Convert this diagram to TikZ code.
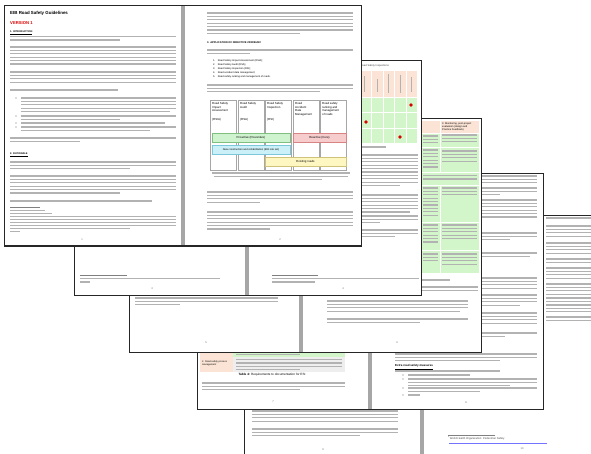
\documentclass[tikz,border=0pt]{standalone}
\usepackage{fontspec}
\setmainfont{Liberation Sans}
\definecolor{barGreen}{HTML}{CFF2CF}
\definecolor{barGreenD}{HTML}{7FBF7F}
\definecolor{barRed}{HTML}{F7CCCC}
\definecolor{barRedD}{HTML}{D98484}
\definecolor{barCyan}{HTML}{CCF0F8}
\definecolor{barCyanD}{HTML}{7CC8DA}
\definecolor{barYellow}{HTML}{FFF7C2}
\definecolor{barYellowD}{HTML}{CFC27A}
\definecolor{peach}{HTML}{FBE4D5}
\definecolor{tabGreen}{HTML}{D3F5CA}
\definecolor{cellGray}{HTML}{EEEEEE}
\newcommand{\fsz}[2]{\fontsize{#1}{#2}\selectfont}
% grey bars standing for the unreadable lines of running text
\newcommand{\txtlines}[5]{%
  \foreach \k in {1,...,#4}{%
    \pgfmathsetmacro{\ty}{#3+(\k-1)*3.4}%
    \ifnum\k=#4\relax
      \draw[txt] (#1,\ty) -- (#5,\ty);%
    \else
      \draw[txt] (#1,\ty) -- (#2,\ty);%
    \fi}}
% two facing pages: x1 y1 x2 y2 gutter
\newcommand{\spread}[5]{%
  \fill[white] (#1,#2) rectangle (#3,#4);
  \fill[gutter] (#5,#2) rectangle ({#5+4},#4);
  \draw[sheetframe] (#1,#2) rectangle (#3,#4);}
\begin{document}
\begin{tikzpicture}[x=1pt,y=-1pt,
  sheetframe/.style={draw=black!85,line width=1pt},
  gutter/.style={fill=black!35},
  txt/.style={draw=black!30,line width=1.3pt},
  fnrule/.style={draw=black!50,line width=0.3pt},
  pgnum/.style={font=\fsz{2.6}{3},text=black!60,inner sep=0pt},
  boxlabel/.style={font=\fsz{2.9}{3.8},inner sep=0pt,align=left,anchor=north west},
  bandlabel/.style={font=\fsz{2.9}{3.4},inner sep=0pt},
  band/.style={line width=0.4pt},
  diagcell/.style={draw=black!35,line width=0.4pt},
  reddot/.style={fill=red!85!black},
  cellsep/.style={draw=white,line width=0.6pt}]
  \useasboundingbox (0,0) rectangle (591,454);
  \fill[white] (0,0) rectangle (591,454);
  \clip (0,0) rectangle (591,454);

  % spread 5 (pages 9-10), furthest back
  \spread{244}{216}{600}{460}{420}
  \foreach \y/\n in {218/1,226/4,243/4,259/2,268/4,284/4,298/2,305/3,317/2}
    \txtlines{546}{600}{\y}{\n}{600};
  \txtlines{252}{398}{411}{4}{398}
  \txtlines{252}{398}{429}{3}{360}
  \node[pgnum] (pnine) at (323,450) {9};
  \draw[fnrule] (448,435.5) -- (495,435.5);
  \node[anchor=west,inner sep=0pt,font=\fsz{2.7}{3},text=black!70] (fnwho) at (448,438.6)
    {\textsuperscript{1}World Health Organization: Pedestrian Safety};
  \draw[txt,draw=blue!55,line width=0.9pt] (449,443) -- (547,443);
  \node[pgnum] (pten) at (522,449) {10};

  % spread 4 (pages 7-8)
  \spread{197}{174}{543}{409}{368}
  \foreach \y/\n/\e in {176/3/537,188/3/500,200/6/537,233/3/510,253/2/530,278/4/537,295/4/520,313/4/537,333/2/505}
    \txtlines{395}{537}{\y}{\n}{\e};
  \fill[peach] (200,340) rectangle (233,372);
  \fill[tabGreen] (233,340) rectangle (345,356.5);
  \fill[cellGray] (233,356.5) rectangle (345,372);
  \draw[txt,line width=0.8pt] (236,354) -- (300,354);
  \txtlines{236}{342}{359.5}{4}{300}
  \node[anchor=north west,inner sep=0pt,font=\fsz{2.4}{3.2},align=left] (procmgmt) at (202,360.5)
    {2. Road safety process\\management};
  \node[inner sep=0pt,font=\fsz{3.1}{3.5}] (tabfour) at (272,374.8)
    {\textbf{Table 4:} Requirements to documentation for ESI};
  \txtlines{202}{345}{383}{3}{300}
  \node[pgnum] (pseven) at (273,402) {7};
  \txtlines{395}{537}{354}{3}{500}
  \node[anchor=west,inner sep=0pt,font=\fsz{2.9}{3.3}\bfseries] (extra) at (395,367)
    {\underline{Extra road safety measures}};
  \txtlines{395}{537}{371}{1}{500}
  \foreach \y/\n/\e in {375/1/470,379/3/510,388/2/480,395/1/420} {
    \fill[black!55] (403,\y) circle (0.7);
    \txtlines{408}{537}{\y}{\n}{\e}}
  \node[pgnum] (peight) at (466,403) {8};

  % spread 3 (pages 5-6)
  \spread{129}{119}{481}{352}{299}
  \fill[peach] (330,121) rectangle (479,133);
  \fill[tabGreen] (330,133) rectangle (479,273);
  \draw[cellsep] (440,121) -- (440,172);
  \draw[cellsep] (440,185) -- (440,273);
  \foreach \y in {133,147,172,185,222,250}
    \draw[cellsep] (330,\y) -- (479,\y);
  \node[anchor=north west,inner sep=0pt,font=\fsz{2.5}{3},align=left] (monitor) at (442,122.2)
    {3. Monitoring, post-project\\evaluation (design and\\Practice Feedback)};
  \foreach \x/\e/\y/\n in {423/438/136/3,442/477/135/3,423/438/150/6,442/477/151/4,423/477/175.5/2,
      423/438/188/9,442/477/188/3,423/438/225/6,442/477/225/5,423/438/254/3,442/477/254/4}
    \txtlines{\x}{\e}{\y}{\n}{\e};
  \txtlines{327}{450}{280}{1}{450}
  \txtlines{327}{478}{287}{2}{478}
  \txtlines{327}{468}{301}{4}{460}
  \txtlines{327}{468}{319}{2}{420}
  \node[pgnum] (psix) at (397,343) {6};
  \txtlines{135}{278}{298}{3}{180}
  \node[pgnum] (pfive) at (206,343) {5};

  % spread 2 (pages 3-4)
  \spread{74}{61}{421}{295}{245}
  \node[anchor=east,inner sep=0pt,font=\fsz{2.6}{3},text=black!75] (rsi) at (389,66)
    {Road Safety Inspections};
  \fill[peach] (300,71) rectangle (417,97);
  \fill[tabGreen] (300,97) rectangle (417,143);
  \foreach \x in {371,383,394,406}
    \draw[cellsep] (\x,71) -- (\x,143);
  \foreach \y in {97,112,128}
    \draw[cellsep] (300,\y) -- (417,\y);
  \foreach \x/\a/\b in {364/76/92,377/79/92,388/74/93,400/75/93,411/77/92}
    \draw[txt,line width=0.8pt] (\x,\a) -- (\x,\b);
  \foreach \x/\y in {411/105,366/122,400/137}
    \fill[reddot] (\x,\y) circle (1.8);
  \draw[txt] (362,147) -- (386,147);
  \foreach \y/\n/\e in {155/10/400,195/6/410,216/3/380,230/3/395}
    \txtlines{270}{418}{\y}{\n}{\e};
  \draw[fnrule] (80,275.5) -- (127,275.5);
  \txtlines{80}{220}{278.5}{2}{90}
  \node[pgnum] (pthree) at (152,289) {3};
  \draw[fnrule] (272,275.5) -- (318,275.5);
  \txtlines{272}{419}{278.5}{2}{315}
  \node[pgnum] (pfour) at (343,289) {4};

  % spread 1 (pages 1-2), in front
  \spread{4}{6}{361}{246}{181}
  \node[anchor=west,inner sep=0pt,font=\fsz{4.4}{5}\bfseries] (title) at (10,13) {EIB Road Safety Guidelines};
  \node[anchor=west,inner sep=0pt,font=\fsz{4.2}{5}\bfseries,text=red!85!black] (version) at (10,23) {VERSION 1};
  \node[anchor=west,inner sep=0pt,font=\fsz{2.5}{3}\bfseries] (intro) at (10,32.5) {\underline{1. INTRODUCTION}};
  \foreach \y/\n/\e in {36.5/2/120,47/6/176,72/4/176,90/1/118}
    \txtlines{10}{176}{\y}{\n}{\e};
  \foreach \y/\n/\e in {98/5/170,116/2/120,123/1/165,127/2/150} {
    \fill[black!55] (16,\y) circle (0.7);
    \txtlines{21}{176}{\y}{\n}{\e}}
  \txtlines{10}{176}{138}{2}{80}
  \node[anchor=west,inner sep=0pt,font=\fsz{2.5}{3}\bfseries] (rationale) at (10,155) {\underline{2. RATIONALE}};
  \foreach \y/\n/\e in {162/3/130,176/6/120,201/1/152}
    \txtlines{10}{176}{\y}{\n}{\e};
  \draw[fnrule] (10,207) -- (40,207);
  \foreach \y/\e in {210/45,213/52,216/176,219/176,222/176,225/176,228/130,231/20}
    \draw[txt,line width=0.8pt] (10,\y) -- (\e,\y);
  \node[pgnum] (pone) at (82,240) {1};

  \txtlines{207}{353}{13}{7}{300}
  \node[anchor=west,inner sep=0pt,font=\fsz{2.6}{3}\bfseries] (appl) at (207,43) {3. APPLICATION OF DIRECTIVE 2008/96/EC};
  \txtlines{207}{353}{50}{2}{250}
  \foreach \y/\n/\t in {61/1/{Road Safety Impact Assessment (RSIA);},65/2/{Road Safety Audit (RSA);},
      69/3/{Road Safety Inspection (RSI);},73/4/{Road accident data management;},
      77/5/{Road safety ranking and management of roads.}}
    \node[anchor=west,inner sep=0pt,font=\fsz{2.5}{3}] (item\n) at (213,\y) {\n.\hspace{2.5pt}\t};
  \txtlines{207}{353}{85}{3}{320}
  \foreach \x/\t/\id in {210/{Road Safety\\Impact\\Assessment}/rsia,238/{Road Safety\\Audit}/rsa,
      265/{Road Safety\\Inspection}/rsi,293/{Road\\Accident\\Data\\Management}/radm,
      320/{Road safety\\ranking and\\management\\of roads}/rank} {
    \draw[diagcell] (\x,100) rectangle ++(26,70);
    \node[boxlabel] (\id) at (\x+2,102) {\t};}
  \foreach \x/\a in {210/RSIA,238/RSA,265/RSI}
    \node[boxlabel] (abbr\a) at (\x+2,118.5) {(\a)};
  \draw[band,fill=barGreen,draw=barGreenD] (212,133) rectangle (290,142);
  \node[bandlabel] (proact) at (251,137.5) {Proactive (Preventive)};
  \draw[band,fill=barRed,draw=barRedD] (293,133) rectangle (346,142);
  \node[bandlabel] (react) at (319.5,137.5) {Reactive (Cure)};
  \draw[band,fill=barCyan,draw=barCyanD] (212,145) rectangle (290,154);
  \node[bandlabel,font=\fsz{2.6}{3}] (newcon) at (251,149.5) {New construction and rehabilitation (EIB role set)};
  \draw[band,fill=barYellow,draw=barYellowD] (265,157) rectangle (346,166);
  \node[bandlabel] (exist) at (305.5,161.5) {Existing roads};
  \foreach \y/\a/\b in {173/212/350,176.4/214/348,179.8/240/322}
    \draw[txt] (\a,\y) -- (\b,\y);
  \txtlines{207}{353}{192}{4}{260}
  \txtlines{207}{353}{212}{6}{270}
  \node[pgnum] (ptwo) at (280,240) {2};
\end{tikzpicture}
\end{document}
